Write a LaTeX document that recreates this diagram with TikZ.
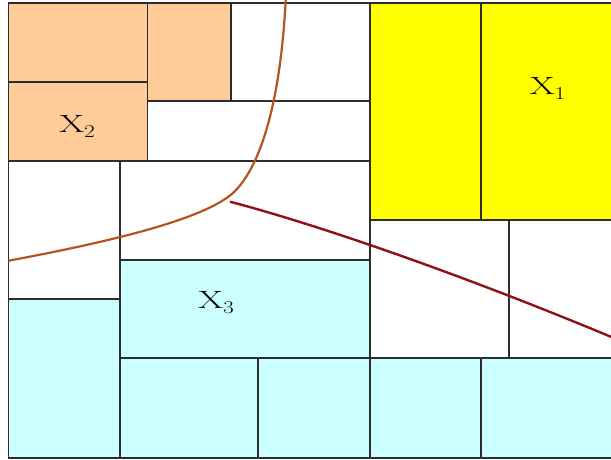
\documentclass[tikz,border=0pt]{standalone}
\usepackage{fontspec}
\usepackage{graphicx}
\definecolor{orng}{RGB}{255,204,153}
\definecolor{yel}{RGB}{255,255,0}
\definecolor{cyn}{RGB}{204,255,255}
\definecolor{frame}{RGB}{45,45,45}
\definecolor{brown}{RGB}{180,84,30}
\definecolor{dred}{RGB}{140,18,22}
\tikzset{
  cell/.style={draw=frame, line width=1.8pt},
  lab/.style={inner sep=0pt},
}
\newcommand{\Xlab}[1]{\fontsize{25}{25}\selectfont\scalebox{1.45}[1]{X}\raisebox{-0.2em}{\fontsize{18}{18}\selectfont\scalebox{1.3}[1]{#1}}}
\begin{document}
\begin{tikzpicture}[x=1pt,y=-1pt]
\useasboundingbox (0,0) rectangle (611,460);
\fill[white] (0,0) rectangle (611,460);
\begin{scope}
\clip (0,0) rectangle (611,460);
\foreach \c/\a/\b/\p/\q in {
  orng/8.5/3.3/147.5/82, orng/8.5/82/147.5/161, orng/147.5/3.3/230.7/101,
  white/230.7/3.3/370/101, white/147.5/101/370/161, white/8.5/161/120/299,
  white/120/161/370/260,
  yel/370/3.3/481/220, yel/481/3.3/630/220,
  white/370/220/508.7/358, white/508.7/220/630/358,
  cyn/8.5/299/120/457.7, cyn/120/260/370/358, cyn/120/358/258.3/457.7,
  cyn/258.3/358/370/457.7, cyn/370/358/481/457.7, cyn/481/358/630/457.7}
  \fill[\c] (\a,\b) rectangle (\p,\q);
\foreach \a/\b/\p/\q in {
  8.5/3.3/147.5/82, 8.5/82/147.5/161, 147.5/3.3/230.7/101,
  230.7/3.3/370/101, 147.5/101/370/161, 8.5/161/120/299,
  120/161/370/260,
  370/3.3/481/220, 481/3.3/630/220,
  370/220/508.7/358, 508.7/220/630/358,
  8.5/299/120/457.7, 120/260/370/358, 120/358/258.3/457.7,
  258.3/358/370/457.7, 370/358/481/457.7, 481/358/630/457.7}
  \draw[cell] (\a,\b) rectangle (\p,\q);
% labels
\node[lab] (x1) at (547.5,88) {\Xlab{1}};
\node[lab] (x2) at (77,126) {\Xlab{2}};
\node[lab] (x3) at (216,303) {\Xlab{3}};
% curves
\coordinate (bs) at (285.7,0);
\coordinate (bm) at (233,193);
\coordinate (be) at (8.5,260.7);
\draw[brown, line width=2.2pt] (bs) .. controls (280,110) and (258,170) .. (bm)
  .. controls (205,218) and (120,240) .. (be);
\coordinate (rs) at (230,201.7);
\coordinate (re) at (615,338.5);
\draw[dred, line width=2.4pt] (rs) .. controls (330,228) and (480,282) .. (re);
\end{scope}
\end{tikzpicture}
\end{document}
